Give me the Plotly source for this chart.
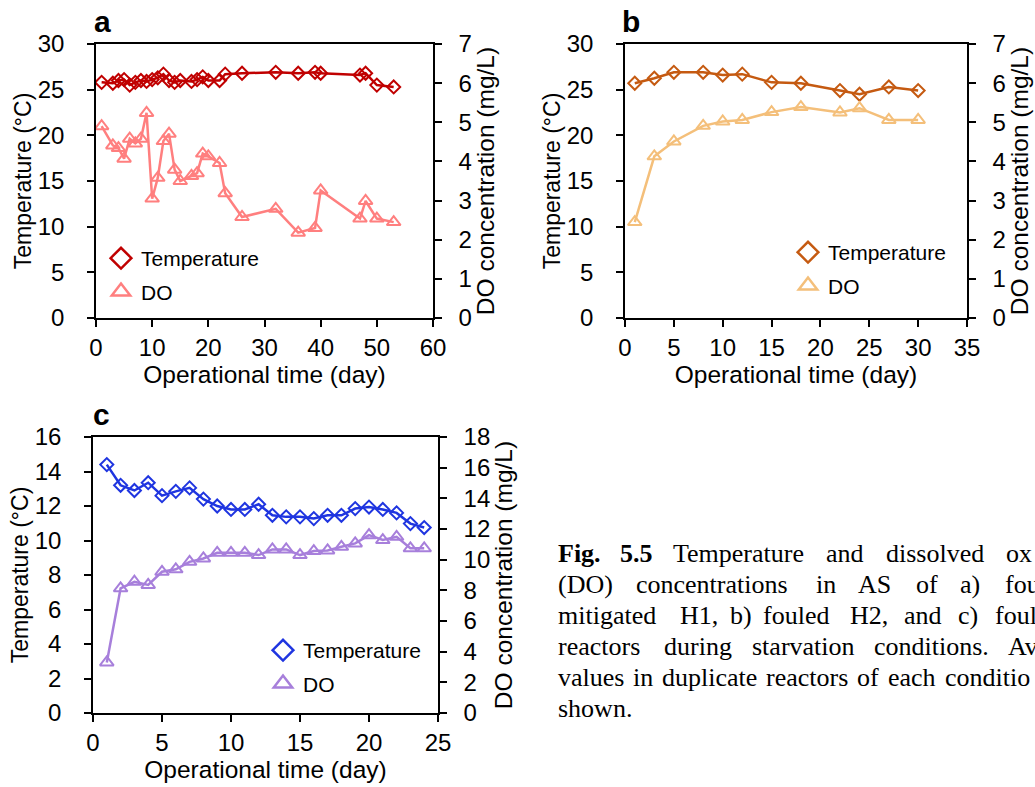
import plotly.graph_objects as go

# ---------------- data ----------------
# Panel a (fouled & mitigated H1)
day_a = [1, 3, 4, 5, 6, 7, 8, 9, 10, 11, 12, 13, 14, 15, 17, 18, 19, 20, 22, 23, 26, 32, 36, 39, 40, 47, 48, 50, 53]
temp_a = [25.8, 25.7, 26.0, 26.1, 25.5, 25.8, 26.0, 25.9, 26.1, 26.3, 26.7, 26.0, 25.8, 26.0, 25.9, 26.1, 26.4, 26.0,
          26.0, 26.7, 26.8, 26.9, 26.8, 26.9, 26.8, 26.6, 26.8, 25.5, 25.3]
do_a = [4.9, 4.41, 4.34, 4.07, 4.58, 4.46, 4.58, 5.24, 3.05, 3.58, 4.52, 4.71, 3.79, 3.5, 3.63, 3.7, 4.2, 4.13,
        3.96, 3.19, 2.58, 2.79, 2.18, 2.3, 3.26, 2.54, 2.99, 2.54, 2.45]

# Panel b (fouled H2)
day_b = [1, 3, 5, 8, 10, 12, 15, 18, 22, 24, 27, 30]
temp_b = [25.7, 26.25, 26.9, 26.9, 26.6, 26.7, 25.8, 25.7, 24.9, 24.5, 25.3, 24.9]
do_b = [2.45, 4.13, 4.51, 4.91, 5.02, 5.06, 5.26, 5.39, 5.25, 5.36, 5.06, 5.06]

# Panel c (fouled reactors)
day_c = list(range(1, 25))
temp_c = [14.4, 13.2, 12.9, 13.35, 12.6, 12.85, 13.05, 12.4, 12.0, 11.8, 11.8, 12.1, 11.46, 11.37, 11.37, 11.27,
          11.46, 11.46, 11.85, 11.94, 11.8, 11.6, 10.98, 10.75]
do_c = [3.3, 8.13, 8.56, 8.35, 9.21, 9.37, 9.86, 10.08, 10.45, 10.45, 10.45, 10.3, 10.67, 10.67, 10.3, 10.56,
        10.6, 10.84, 11.06, 11.6, 11.28, 11.49, 10.74, 10.74]

series_names = ["Temperature", "DO"]
x_title = "Operational time (day)"
y_left_title = "Temperature (°C)"
y_right_title = "DO concentration (mg/L)"
panel_letters = ["a", "b", "c"]

# caption words as visible in the (cropped) reference, with their left x in pixels (justified text)
caption_lines = [
    [("<b>Fig.</b>", 558), ("<b>5.5</b>", 620), ("Temperature", 673), ("and", 826), ("dissolved", 886), ("ox", 1006)],
    [("(DO)", 558), ("concentrations", 636), ("in", 816), ("AS", 858), ("of", 916), ("a)", 960), ("fou", 1005)],
    [("mitigated", 558), ("H1,", 680), ("b)", 730), ("fouled", 763), ("H2,", 850), ("and", 904), ("c)", 958), ("foul", 995)],
    [("reactors", 558), ("during", 664), ("starvation", 752), ("conditions.", 874), ("Av", 1008)],
    [("values", 558), ("in", 633), ("duplicate", 662), ("reactors", 766), ("of", 857), ("each", 888), ("conditio", 945)],
    [("shown.", 558)],
]
caption_y = [553, 584, 615, 646, 677, 708]

# ---------------- styling ----------------
W, H = 1035, 787
FONT = "Liberation Sans, Arial, sans-serif"
TICK = 24
colors = {
    "a": ("#C00000", "#FF7F7F"),
    "b": ("#C55A11", "#F4BF7A"),
    "c": ("#1F35E0", "#A77FDB"),
}

def px_x(v):
    return v / W

def px_y(v):
    return 1 - v / H

fig = go.Figure()

panels = [
    ("a", day_a, temp_a, do_a, "x", "y", "y2", "legend"),
    ("b", day_b, temp_b, do_b, "x2", "y3", "y4", "legend2"),
    ("c", day_c, temp_c, do_c, "x3", "y5", "y6", "legend3"),
]

for key, d, t, o, xa, ya, ya2, lg in panels:
    ct, cd = colors[key]
    fig.add_trace(go.Scatter(x=d, y=t, xaxis=xa, yaxis=ya, mode="lines+markers", showlegend=False,
                             line=dict(color=ct, width=2.5),
                             marker=dict(symbol="diamond-open", size=10, color=ct, line=dict(width=2, color=ct))))
    fig.add_trace(go.Scatter(x=d, y=o, xaxis=xa, yaxis=ya2, mode="lines+markers", showlegend=False,
                             line=dict(color=cd, width=2.5),
                             marker=dict(symbol="triangle-up-open", size=12, color=cd, line=dict(width=2, color=cd))))
    # legend entries (marker only)
    fig.add_trace(go.Scatter(x=[None], y=[None], xaxis=xa, yaxis=ya, mode="markers", name=series_names[0],
                             legend=lg, legendgroup=key + "t",
                             marker=dict(symbol="diamond-open", size=16, color=ct, line=dict(width=2.5, color=ct))))
    fig.add_trace(go.Scatter(x=[None], y=[None], xaxis=xa, yaxis=ya2, mode="markers", name=series_names[1],
                             legend=lg, legendgroup=key + "d",
                             marker=dict(symbol="triangle-up-open", size=16, color=cd, line=dict(width=2.5, color=cd))))

common_axis = dict(showline=True, linecolor="black", linewidth=1.5, ticks="outside", ticklen=7, tickwidth=1.5,
                   tickcolor="black", showgrid=False, zeroline=False, automargin=False,
                   tickfont=dict(family=FONT, size=TICK, color="black"))

def xaxis(domain, anchor, rng, dtick):
    return dict(common_axis, domain=domain, anchor=anchor, range=rng, dtick=dtick, mirror=True,
                ticklabelstandoff=0,
                title=dict(text=x_title, font=dict(family=FONT, size=24.5, color="black"), standoff=2))

def yleft(domain, anchor, rng, dtick):
    return dict(common_axis, domain=domain, anchor=anchor, range=rng, dtick=dtick, ticklabelstandoff=18,
                title=dict(text=y_left_title, font=dict(family=FONT, size=23, color="black"), standoff=0))

def yright(overlay, anchor, rng, dtick):
    return dict(common_axis, overlaying=overlay, anchor=anchor, side="right", range=rng, dtick=dtick,
                ticklabelstandoff=12,
                title=dict(text=y_right_title, font=dict(family=FONT, size=24.5, color="black"), standoff=0))

dom_a_x = [px_x(96), px_x(433)]
dom_a_y = [px_y(318), px_y(44)]
dom_b_x = [px_x(625), px_x(967)]
dom_b_y = [px_y(318), px_y(44)]
dom_c_x = [px_x(93), px_x(438)]
dom_c_y = [px_y(713), px_y(437)]

legend_style = dict(bgcolor="rgba(0,0,0,0)", borderwidth=0, font=dict(family=FONT, size=21, color="black"),
                    xanchor="left", yanchor="top", tracegroupgap=3, itemclick=False)

annotations = []
for letter, (lx, ly) in zip(panel_letters, [(102, 22), (631, 22), (101, 414)]):
    annotations.append(dict(text="<b>" + letter + "</b>", x=px_x(lx), y=px_y(ly), xref="paper", yref="paper",
                            xanchor="center", yanchor="middle", showarrow=False,
                            font=dict(family=FONT, size=30, color="black")))
for words, yc in zip(caption_lines, caption_y):
    for w, xl in words:
        annotations.append(dict(text=w, x=px_x(xl), y=px_y(yc), xref="paper", yref="paper", xanchor="left",
                                yanchor="middle", showarrow=False, xshift=-2,
                                font=dict(family="Liberation Serif, Times New Roman, serif", size=26,
                                          color="black")))

fig.update_layout(
    width=W, height=H, margin=dict(l=0, r=0, t=0, b=0, autoexpand=False),
    paper_bgcolor="white", plot_bgcolor="white",
    font=dict(family=FONT, color="black"),
    xaxis=xaxis(dom_a_x, "y", [0, 60], 10),
    yaxis=yleft(dom_a_y, "x", [0, 30], 5),
    yaxis2=yright("y", "x", [0, 7], 1),
    xaxis2=xaxis(dom_b_x, "y3", [0, 35], 5),
    yaxis3=yleft(dom_b_y, "x2", [0, 30], 5),
    yaxis4=yright("y3", "x2", [0, 7], 1),
    xaxis3=xaxis(dom_c_x, "y5", [0, 25], 5),
    yaxis5=yleft(dom_c_y, "x3", [0, 16], 2),
    yaxis6=yright("y5", "x3", [0, 18], 2),
    legend=dict(legend_style, x=px_x(101), y=px_y(238)),
    legend2=dict(legend_style, x=px_x(788), y=px_y(232)),
    legend3=dict(legend_style, x=px_x(263), y=px_y(630)),
    annotations=annotations,
    showlegend=True,
)

fig.write_html("out.html")
